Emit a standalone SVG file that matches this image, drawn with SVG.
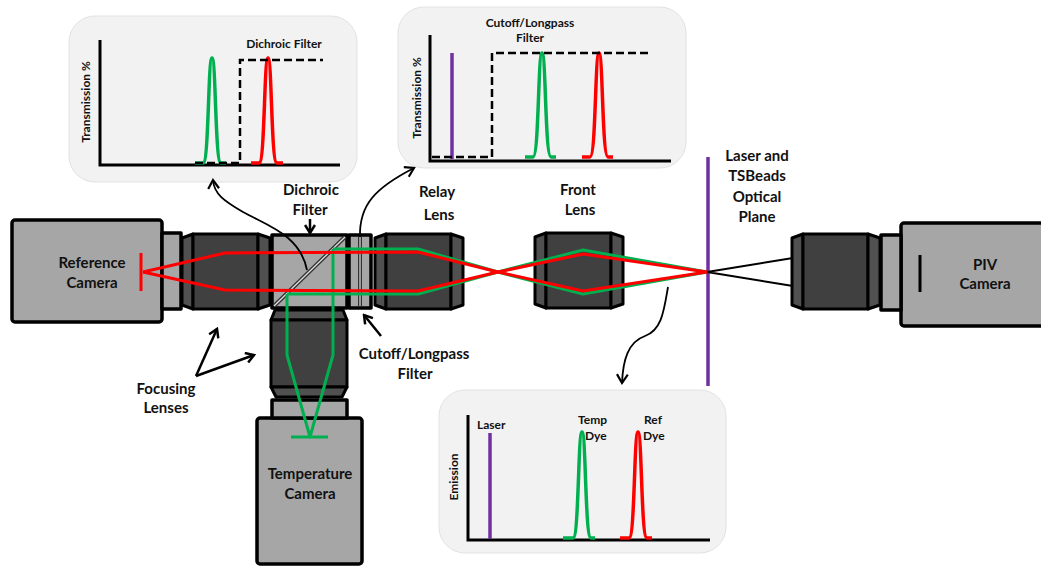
<svg xmlns="http://www.w3.org/2000/svg" width="1041" height="567" viewBox="0 0 1041 567">
  <style>
    .cam { fill: #a6a6a6; stroke: #000; stroke-width: 3.5; stroke-linejoin: round; }
    .lbody { fill: #404040; stroke: #000; stroke-width: 3; stroke-linejoin: round; }
    .lend { fill: #505050; stroke: #000; stroke-width: 3; stroke-linejoin: round; }
    .lbl { font-family: Lato, "Liberation Sans", sans-serif; font-weight: 700; font-size: 15px; fill: #111; text-anchor: middle; }
    .small { font-family: Lato, "Liberation Sans", sans-serif; font-weight: 700; font-size: 12px; fill: #111; }
    .panel { fill: #f2f2f2; stroke: #e2e2e2; stroke-width: 1; }
    .axis { fill: none; stroke: #000; stroke-width: 3; }
    .dash { fill: none; stroke: #000; stroke-width: 2.5; stroke-dasharray: 8 4; }
    .peakG { fill: none; stroke: #00b050; stroke-width: 3.5; stroke-linejoin: round; }
    .peakR { fill: none; stroke: #ff0000; stroke-width: 3.5; stroke-linejoin: round; }
    .laser { stroke: #7030a0; stroke-width: 3.5; }
    .red { fill: none; stroke: #ff0000; stroke-width: 3; stroke-linejoin: round; }
    .green { fill: none; stroke: #00b050; stroke-width: 3; stroke-linejoin: round; }
    .blk { fill: none; stroke: #000; stroke-width: 2; }
    .arr { fill: none; stroke: #000; stroke-width: 2.5; marker-end: url(#vhead); }
    .carr { fill: none; stroke: #000; stroke-width: 1.8; marker-end: url(#vhead2); }
  </style>
  <defs>
    <marker id="vhead" viewBox="0 0 12 12" refX="10" refY="6" markerWidth="12" markerHeight="12" orient="auto" markerUnits="userSpaceOnUse">
      <path d="M2,1 L10,6 L2,11" fill="none" stroke="#000" stroke-width="2.5"/>
    </marker>
    <marker id="vhead2" viewBox="0 0 12 12" refX="10" refY="6" markerWidth="13" markerHeight="13" orient="auto" markerUnits="userSpaceOnUse">
      <path d="M2,1 L10,6 L2,11" fill="none" stroke="#000" stroke-width="2"/>
    </marker>
    <!-- horizontal lens barrel: chamfered ends around a dark body -->
    <g id="lens">
      <polygon class="lend" points="0,4 11,0 11,75 0,71"/>
      <rect class="lbody" x="11" y="0" width="65" height="75"/>
      <polygon class="lend" points="76,0 88,4 88,71 76,75"/>
    </g>
  </defs>

  <rect width="1041" height="567" fill="#fff"/>

  <!-- spectrum panels -->
  <g id="dichroic-panel">
    <rect class="panel" x="69" y="16" width="288" height="166" rx="26"/>
    <polyline class="axis" points="100,40 100,165 340,165"/>
    <text class="small" transform="translate(90,102) rotate(-90)" text-anchor="middle">Transmission %</text>
    <text class="small" x="284" y="48" text-anchor="middle">Dichroic Filter</text>
    <path class="peakG" d="M195,163 L203,163 C209,163 208,58 212,58 C216,58 215,163 221,163 L226,163"/>
    <path class="peakR" d="M251,163 L259,163 C265,163 264,58 268,58 C272,58 271,163 277,163 L283,163"/>
    <polyline class="dash" points="195,163 240,163 240,60 323,60"/>
  </g>

  <g id="cutoff-panel">
    <rect class="panel" x="398" y="7" width="288" height="161" rx="26"/>
    <polyline class="axis" points="430,35 430,161 671,161"/>
    <text class="small" transform="translate(421,98) rotate(-90)" text-anchor="middle">Transmission %</text>
    <text class="small" x="530" y="27" text-anchor="middle">Cutoff/Longpass</text>
    <text class="small" x="530" y="42" text-anchor="middle">Filter</text>
    <line class="laser" x1="452" y1="53" x2="452" y2="159"/>
    <path class="peakG" d="M525,157 L533,157 C539,157 538,53 542,53 C546,53 545,157 551,157 L556,157"/>
    <path class="peakR" d="M582,157 L590,157 C596,157 595,53 599,53 C603,53 602,157 608,157 L613,157"/>
    <polyline class="dash" points="432,157 492,157 492,53 648,53"/>
  </g>

  <g id="emission-panel">
    <rect class="panel" x="439" y="390" width="287" height="163" rx="26"/>
    <polyline class="axis" points="468,415 468,540 710,540"/>
    <text class="small" transform="translate(458,477) rotate(-90)" text-anchor="middle">Emission</text>
    <text class="small" x="477" y="429">Laser</text>
    <text class="small" x="578" y="424">Temp</text>
    <text class="small" x="585" y="440">Dye</text>
    <text class="small" x="644" y="424">Ref</text>
    <text class="small" x="643" y="440">Dye</text>
    <line class="laser" x1="490" y1="433" x2="490" y2="539"/>
    <path class="peakG" d="M563,538 L573,538 C579,538 578,432 582,432 C586,432 585,538 591,538 L595,538"/>
    <path class="peakR" d="M620,538 L629,538 C635,538 634,432 638,432 C642,432 641,538 647,538 L652,538"/>
  </g>

  <!-- reference camera with focusing lens -->
  <g id="reference-camera">
    <rect class="cam" x="12" y="220" width="150" height="102" rx="3"/>
    <rect class="cam" x="162" y="233" width="19" height="76" stroke-width="3"/>
    <use href="#lens" x="182" y="234"/>
    <text class="lbl" x="92" y="268">Reference</text>
    <text class="lbl" x="92" y="288">Camera</text>
  </g>

  <!-- temperature camera with vertical focusing lens -->
  <g id="temperature-camera">
    <rect class="cam" x="257" y="418" width="105" height="146" rx="3"/>
    <rect class="cam" x="272" y="400" width="75" height="18" stroke-width="3"/>
    <polygon class="lend" points="275,310 343,310 347,320 271,320"/>
    <rect class="lbody" x="271" y="320" width="76" height="67"/>
    <polygon class="lend" points="271,387 347,387 342,397 276,397"/>
    <text class="lbl" x="310" y="479">Temperature</text>
    <text class="lbl" x="310" y="499">Camera</text>
  </g>

  <!-- dichroic beam-splitter cube and longpass filter -->
  <g id="dichroic-cube">
    <rect class="cam" x="272" y="235" width="75" height="73" stroke-width="3"/>
    <line x1="274" y1="306" x2="345" y2="237" stroke="#333" stroke-width="4"/>
    <line x1="274" y1="306" x2="345" y2="237" stroke="#e0e0e0" stroke-width="1.3"/>
  </g>
  <g id="longpass-filter">
    <rect class="cam" x="349" y="235" width="22" height="73" stroke-width="3"/>
    <line x1="360" y1="237" x2="360" y2="306" stroke="#333" stroke-width="4"/>
    <line x1="360" y1="237" x2="360" y2="306" stroke="#e0e0e0" stroke-width="1.2"/>
  </g>

  <g id="relay-lens">
    <use href="#lens" x="375" y="234"/>
  </g>
  <g id="front-lens">
    <use href="#lens" x="535" y="233"/>
  </g>

  <!-- PIV camera -->
  <g id="piv-camera">
    <rect class="cam" x="901" y="223" width="150" height="103" rx="3"/>
    <rect class="cam" x="881" y="235" width="20" height="75" stroke-width="3"/>
    <use href="#lens" x="792" y="234"/>
    <line x1="920" y1="255" x2="920" y2="292" stroke="#000" stroke-width="3"/>
    <text class="lbl" x="985" y="270">PIV</text>
    <text class="lbl" x="985" y="289">Camera</text>
  </g>

  <!-- light sheet plane -->
  <g id="optical-plane">
    <line class="laser" x1="708" y1="157" x2="708" y2="386" stroke-width="4"/>
    <text class="lbl" x="757" y="161">Laser and</text>
    <text class="lbl" x="757" y="181">TSBeads</text>
    <text class="lbl" x="757" y="202">Optical</text>
    <text class="lbl" x="757" y="222">Plane</text>
  </g>

  <!-- ray paths -->
  <g id="connectors">
    <path class="blk" d="M707,272 L793,258 M707,272 L793,286"/>
    <path class="green" d="M333,249 L418,249 L498,272 L583,294 L707,272"/>
    <path class="green" d="M287,294 L418,294 L498,272 L583,250 L707,272"/>
    <path class="green" d="M333,249 L333,355 L310,437 L287,355 L287,294"/>
    <line x1="291" y1="437" x2="328" y2="437" stroke="#00b050" stroke-width="3"/>
    <path class="red" d="M143,272 L225,253 L418,252 L498,272 L583,291 L707,272"/>
    <path class="red" d="M143,272 L225,290 L418,291 L498,272 L583,254 L707,272"/>
    <line x1="141" y1="253" x2="141" y2="291" stroke="#ff0000" stroke-width="3"/>

    <!-- callout arrows -->
    <path class="arr" d="M310,219 L310,233"/>
    <path class="arr" d="M381,336 L364,315"/>
    <path class="arr" d="M196,376 L217,329"/>
    <path class="arr" d="M196,376 L254,355"/>
    <path class="carr" d="M307,270 C300,235 268,226 243,212 C224,201 214,194 213,180"/>
    <path class="carr" d="M360,237 C359,205 375,188 414,168"/>
    <path class="carr" d="M668,287 C664,310 662,330 645,336 C628,342 623,360 622,383"/>
  </g>

  <!-- labels -->
  <g id="labels">
    <text class="lbl" x="311" y="195">Dichroic</text>
    <text class="lbl" x="310" y="215">Filter</text>
    <text class="lbl" x="437" y="197">Relay</text>
    <text class="lbl" x="439" y="220">Lens</text>
    <text class="lbl" x="578" y="195">Front</text>
    <text class="lbl" x="580" y="215">Lens</text>
    <text class="lbl" x="414" y="359">Cutoff/Longpass</text>
    <text class="lbl" x="415" y="379">Filter</text>
    <text class="lbl" x="166" y="394">Focusing</text>
    <text class="lbl" x="166" y="413">Lenses</text>
  </g>
</svg>
